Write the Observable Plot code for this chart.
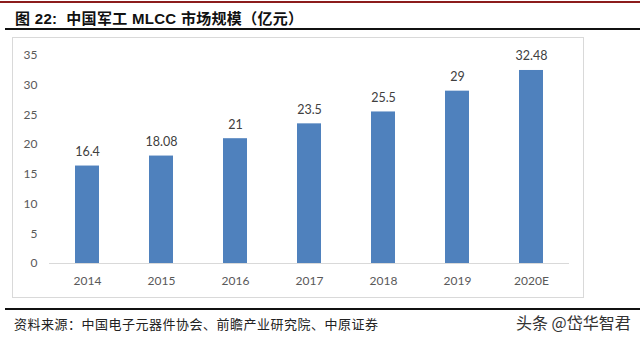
<!DOCTYPE html>
<html><head><meta charset="utf-8">
<script src="https://cdn.jsdelivr.net/npm/d3@7"></script>
<script src="https://cdn.jsdelivr.net/npm/@observablehq/plot@0.6"></script>
<style>
html,body{margin:0;padding:0;background:#fff;width:640px;height:338px;overflow:hidden;position:relative;font-family:"Noto Sans CJK SC",sans-serif;}
#redline{position:absolute;left:0;top:1px;width:640px;height:2px;background:#8c1c1c;}
#title{position:absolute;left:15px;top:7px;font-size:15px;font-weight:bold;color:#111;font-family:"Liberation Sans","Noto Sans CJK SC",sans-serif;white-space:nowrap;letter-spacing:0.3px;}
#line1{position:absolute;left:5px;top:28px;width:635px;height:2px;background:#111;}
#box{position:absolute;left:12px;top:37px;width:572px;height:261px;border:1px solid #d9d9d9;box-sizing:border-box;}
#chart{position:absolute;left:12px;top:38px;}
#line2{position:absolute;left:5px;top:308px;width:635px;height:2px;background:#111;}
#source{position:absolute;left:14px;top:314px;font-size:13px;letter-spacing:0.5px;color:#222;white-space:nowrap;}
#wm{position:absolute;left:516px;top:310px;font-size:16px;color:#333;white-space:nowrap;}
</style></head>
<body>
<div id="redline"></div>
<div id="title">图 22:&nbsp; 中国军工 MLCC 市场规模（亿元）</div>
<div id="line1"></div>
<div id="box"></div>
<div id="chart"></div>
<div id="line2"></div>
<div id="source">资料来源：中国电子元器件协会、前瞻产业研究院、中原证券</div>
<div id="wm">头条 @岱华智君</div>
<script>
const years = ["2014","2015","2016","2017","2018","2019","2020E"];
const values = [16.4, 18.08, 21, 23.5, 25.5, 29, 32.48];
const valueLabels = ["16.4","18.08","21","23.5","25.5","29","32.48"];
const yTicks = [0,5,10,15,20,25,30,35];

const data = years.map((y,i)=>({year:y, value:values[i], label:valueLabels[i]}));

const chart = Plot.plot({
  width: 572,
  height: 260,
  marginTop: 17,
  marginBottom: 35,
  marginLeft: 37,
  marginRight: 15,
  style: {fontFamily: "Lato, 'Open Sans', sans-serif", fontSize: "12px", color: "#595959", background: "transparent"},
  x: {domain: years, paddingInner: 0.68, paddingOuter: 0.34, label: null, tickSize: 0, tickPadding: 13},
  y: {domain: [0, 35], ticks: yTicks, label: null, tickSize: 0, tickPadding: 12},
  marks: [
    Plot.barY(data, {x: "year", y: "value", fill: "#4f81bd"}),
    Plot.ruleY([0], {stroke: "#d9d9d9", strokeWidth: 1}),
    Plot.text(data, {x: "year", y: "value", text: "label", dy: -14, fill: "#404040", fontSize: 12.5})
  ]
});
document.getElementById("chart").appendChild(chart);
</script>
</body></html>
